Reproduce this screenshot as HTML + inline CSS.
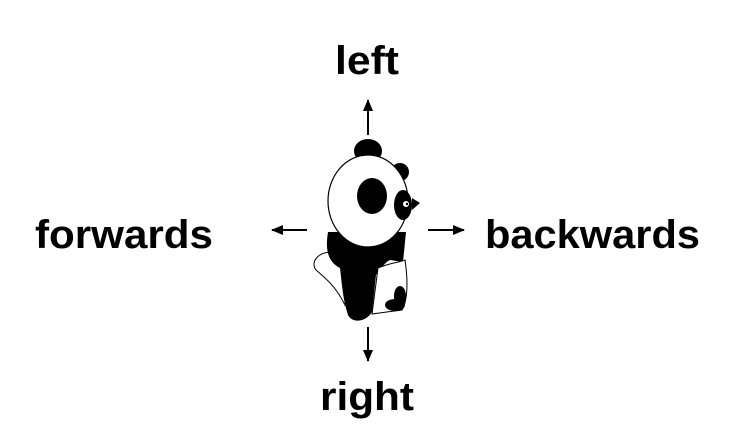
<!DOCTYPE html>
<html><head><meta charset="utf-8"><style>html,body{margin:0;padding:0;background:#fff}svg{display:block}</style></head>
<body>
<svg width="750" height="445" viewBox="0 0 750 445" xmlns="http://www.w3.org/2000/svg">
<defs><marker id="a" markerWidth="12" markerHeight="12" refX="11" refY="6" orient="auto" markerUnits="userSpaceOnUse"><path d="M0,1 L12,6 L0,11 Z" fill="#000"/></marker></defs>
<g font-family="Liberation Sans, sans-serif" font-weight="bold" font-size="40" fill="#000">
<text x="367" y="74" text-anchor="middle" textLength="64" lengthAdjust="spacingAndGlyphs">left</text>
<text x="35" y="248" textLength="178" lengthAdjust="spacingAndGlyphs">forwards</text>
<text x="485" y="248" textLength="215" lengthAdjust="spacingAndGlyphs">backwards</text>
<text x="367" y="410" text-anchor="middle" textLength="94" lengthAdjust="spacingAndGlyphs">right</text>
</g>
<g stroke="#000" stroke-width="2" fill="none">
<line x1="368" y1="135" x2="368" y2="100" marker-end="url(#a)"/>
<line x1="368" y1="327" x2="368" y2="361" marker-end="url(#a)"/>
<line x1="307" y1="230" x2="272" y2="230" marker-end="url(#a)"/>
<line x1="428" y1="230" x2="464" y2="230" marker-end="url(#a)"/>
</g>
<!-- panda -->
<path d="M332,252 C318,252 310,262 316,270 C325,278 335,285 345,305 L352,262 Z" fill="#fff" stroke="#000" stroke-width="1"/>
<path d="M328,232 C325,250 328,262 340,268 C342,285 343,300 348,315 C352,323 365,323 372,312 L376,275 C380,270 385,262 390,260 L403,262 L406,232 Z" fill="#000"/>
<path d="M378,268 C392,262 402,262 405,260 C408,280 408,300 402,310 L372,314 Z" fill="#fff" stroke="#000" stroke-width="1"/>
<ellipse cx="400" cy="296" rx="6" ry="10" fill="#000"/>
<ellipse cx="395" cy="305" rx="10" ry="6" fill="#000"/>
<ellipse cx="400" cy="172" rx="9" ry="9" fill="#000"/>
<ellipse cx="368" cy="151" rx="14" ry="12" fill="#000"/>
<ellipse cx="368" cy="201" rx="40" ry="46" fill="#fff" stroke="#000" stroke-width="1.2"/>
<path d="M412,198 L420,203 L412,210 Z" fill="#000"/>
<ellipse cx="372" cy="196" rx="15" ry="18" fill="#000"/>
<ellipse cx="403" cy="205" rx="9" ry="15" fill="#000"/>
<circle cx="406" cy="204" r="3" fill="#fff"/>
<circle cx="407" cy="204" r="1.2" fill="#000"/>
</svg>
</body></html>
